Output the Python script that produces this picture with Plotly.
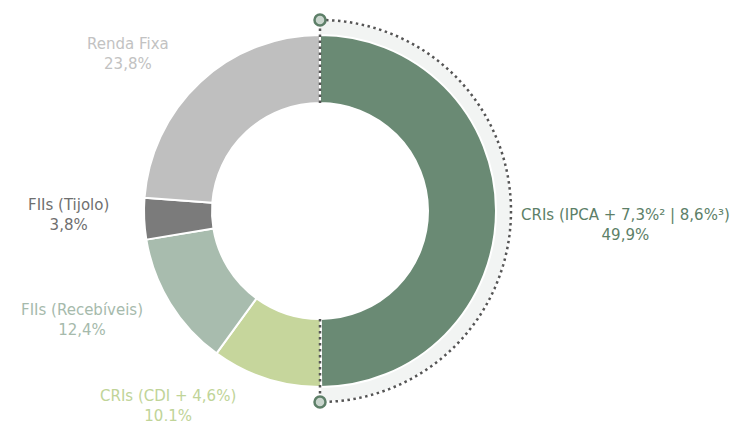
import math
import plotly.graph_objects as go

# ---- data ----
labels = ["CRIs (IPCA + 7,3%² | 8,6%³)", "CRIs (CDI + 4,6%)", "FIIs (Recebíveis)",
          "FIIs (Tijolo)", "Renda Fixa"]
values = [49.9, 10.1, 12.4, 3.8, 23.8]
slice_colors = ["#6a8a74", "#c6d69c", "#a8bcae", "#7b7b7b", "#bfbfbf"]
text_colors = ["#5d7f68", "#c0d498", "#a6baac", "#6f6f6f", "#c2c2c2"]

# ---- geometry (pixels) ----
W, H = 733, 421
cx, cy = 320, 211
R_out = 176
R_in = 108
R_dot = 191

fig = go.Figure()

total = sum(values)
a_end = 360 * values[0] / total
n = 120
angs = [a_end * i / n for i in range(n + 1)]


def pt(r, a):
    t = math.radians(a)
    return cx + r * math.sin(t), cy - r * math.cos(t)


# light band behind the first slice
outer = [pt(R_dot - 1, a) for a in angs]
inner = [pt(R_out - 4, a) for a in reversed(angs)]
bx = [p[0] for p in outer + inner] + [outer[0][0]]
by = [p[1] for p in outer + inner] + [outer[0][1]]
fig.add_trace(go.Scatter(x=bx, y=by, fill="toself", mode="lines", line=dict(width=0),
                         fillcolor="#f2f4f3", hoverinfo="skip", showlegend=False))

fig.add_trace(go.Pie(
    labels=labels, values=values, sort=False, direction="clockwise", rotation=0,
    hole=R_in / R_out, marker=dict(colors=slice_colors, line=dict(color="white", width=2)),
    textinfo="none", hoverinfo="label+percent", showlegend=False,
    domain=dict(x=[(cx - R_out) / W, (cx + R_out) / W],
                y=[(H - cy - R_out) / H, (H - cy + R_out) / H]),
))

shapes = []
dot_line = dict(color="#555555", width=2.5, dash="2.5px,3.5px")
# dotted arc
arc = [pt(R_dot, a) for a in [180 * i / n for i in range(n + 1)]]
path = "M " + " L ".join(f"{x:.2f},{y:.2f}" for x, y in arc)
shapes.append(dict(type="path", path=path, xref="x", yref="y", layer="above", line=dot_line))
# radial dotted lines at start and end
for a in (0, 180):
    x0, y0 = pt(R_in, a)
    x1, y1 = pt(R_dot, a)
    shapes.append(dict(type="line", x0=x0, y0=y0, x1=x1, y1=y1, xref="x", yref="y",
                       layer="above", line=dot_line))
# end markers
for a in (0, 180):
    x, y = pt(R_dot, a)
    r = 5.5
    shapes.append(dict(type="circle", x0=x - r, x1=x + r, y0=y - r, y1=y + r,
                       xref="x", yref="y", layer="above", fillcolor="#c9d5cd",
                       line=dict(color="#5d7f68", width=2.5)))

# labels (two lines each: name, percentage)
label_pos = [(625, 225), (168, 406), (82, 320), (68, 215), (128, 54)]
annotations = []
for lab, v, c, (x, y) in zip(labels, values, text_colors, label_pos):
    pct = f"{v:.1f}".replace(".", ",") + "%"
    annotations.append(dict(x=x, y=y, xref="x", yref="y", text=f"{lab}<br>{pct}",
                            showarrow=False, align="center",
                            xanchor="center", yanchor="middle",
                            font=dict(family="DejaVu Sans", size=15, color=c)))

fig.update_layout(
    width=W, height=H, margin=dict(l=0, r=0, t=0, b=0),
    paper_bgcolor="white", plot_bgcolor="white",
    xaxis=dict(range=[0, W], visible=False, fixedrange=True),
    yaxis=dict(range=[H, 0], visible=False, fixedrange=True),
    shapes=shapes, annotations=annotations,
)
fig.write_html("out.html", config={"displayModeBar": False},
               post_script="document.body.style.margin='0';")
